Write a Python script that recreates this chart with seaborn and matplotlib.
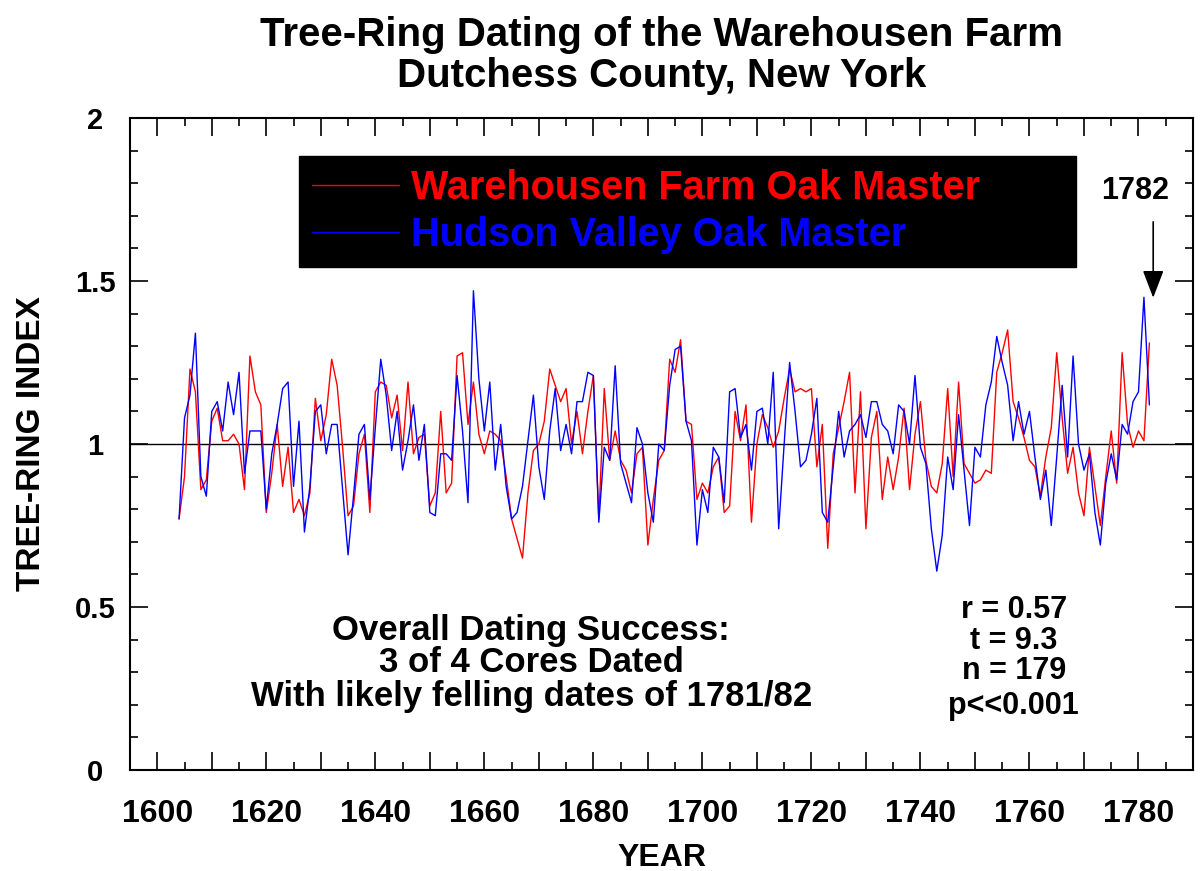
import numpy as np
import pandas as pd
import matplotlib
matplotlib.use("Agg")
import matplotlib.pyplot as plt
from matplotlib.ticker import MultipleLocator, FuncFormatter
import seaborn as sns

# --------------------  DATA  --------------------
years = list(range(1604, 1783))

warehousen = [
    # 1604-1619
    0.77, 0.90, 1.23, 1.16, 0.86, 0.89, 1.07, 1.11, 1.01, 1.01, 1.03, 1.00, 0.86, 1.27, 1.16, 1.12,
    # 1620-1639
    0.79, 0.91, 1.06, 0.87, 0.99, 0.79, 0.83, 0.78, 0.85, 1.14, 1.01, 1.09, 1.26, 1.18, 0.99, 0.78, 0.81, 0.97, 1.03, 0.79,
    # 1640-1659
    1.16, 1.19, 1.18, 1.08, 1.15, 0.98, 1.19, 0.97, 1.02, 1.03, 0.81, 0.85, 1.10, 0.85, 0.88, 1.27, 1.28, 1.06, 1.19, 1.03,
    # 1660-1679
    0.97, 1.04, 1.03, 1.01, 0.90, 0.77, 0.71, 0.65, 0.85, 0.98, 1.00, 1.07, 1.23, 1.18, 1.13, 1.17, 1.00, 1.10, 0.97, 1.10,
    # 1680-1699
    1.21, 0.77, 1.17, 0.95, 1.04, 0.95, 0.92, 0.85, 0.97, 0.99, 0.69, 0.83, 0.95, 0.98, 1.26, 1.22, 1.32, 1.07, 1.06, 0.83,
    # 1700-1719
    0.88, 0.85, 0.93, 0.96, 0.79, 0.81, 1.10, 1.01, 1.12, 0.76, 1.00, 1.09, 1.05, 0.99, 1.04, 1.14, 1.23, 1.16, 1.17, 1.16,
    # 1720-1739
    1.17, 0.93, 1.06, 0.68, 0.97, 1.05, 1.13, 1.22, 0.85, 1.16, 0.74, 1.02, 1.10, 0.83, 0.96, 0.86, 0.96, 1.11, 0.86, 1.03,
    # 1740-1759
    1.13, 0.95, 0.87, 0.85, 0.94, 1.17, 0.90, 1.19, 0.94, 0.91, 0.88, 0.89, 0.92, 0.91, 1.22, 1.28, 1.35, 1.13, 1.08, 1.02,
    # 1760-1779
    0.95, 0.93, 0.84, 0.96, 1.05, 1.28, 1.08, 0.91, 0.99, 0.85, 0.78, 0.99, 0.87, 0.75, 0.90, 1.04, 0.88, 1.28, 1.06, 0.99,
    # 1780-1782
    1.04, 1.01, 1.31,
]

hudson = [
    # 1604-1619
    0.77, 1.08, 1.15, 1.34, 0.90, 0.84, 1.10, 1.13, 1.04, 1.19, 1.09, 1.22, 0.91, 1.04, 1.04, 1.04,
    # 1620-1639
    0.80, 0.97, 1.06, 1.17, 1.19, 0.87, 1.07, 0.73, 0.87, 1.10, 1.12, 0.97, 1.06, 1.06, 0.86, 0.66, 0.84, 1.03, 1.06, 0.83,
    # 1640-1659
    1.05, 1.26, 1.15, 0.98, 1.10, 0.92, 1.01, 1.12, 0.95, 1.06, 0.79, 0.78, 0.97, 0.97, 0.95, 1.21, 1.04, 0.82, 1.47, 1.20,
    # 1660-1679
    1.04, 1.19, 0.92, 1.06, 0.87, 0.77, 0.79, 0.87, 1.01, 1.15, 0.93, 0.83, 1.04, 1.17, 0.98, 1.06, 0.97, 1.13, 1.13, 1.22,
    # 1680-1699
    1.21, 0.76, 0.99, 0.95, 1.24, 0.94, 0.88, 0.82, 1.05, 1.00, 0.85, 0.76, 1.00, 0.98, 1.18, 1.29, 1.30, 1.07, 1.01, 0.69,
    # 1700-1719
    0.86, 0.79, 0.99, 0.96, 0.82, 1.16, 1.17, 1.02, 1.06, 0.92, 1.10, 1.11, 1.00, 1.22, 0.74, 1.00, 1.25, 1.10, 0.93, 0.95,
    # 1720-1739
    1.03, 1.14, 0.79, 0.76, 0.93, 1.10, 0.96, 1.04, 1.06, 1.09, 1.02, 1.13, 1.13, 1.06, 1.04, 0.97, 1.12, 1.10, 1.00, 1.21,
    # 1740-1759
    0.99, 0.94, 0.74, 0.61, 0.72, 0.96, 0.86, 1.09, 0.92, 0.75, 0.99, 0.96, 1.12, 1.19, 1.33, 1.25, 1.18, 1.01, 1.13, 1.03,
    # 1760-1779
    1.10, 0.96, 0.83, 0.92, 0.75, 0.96, 1.18, 0.96, 1.27, 1.00, 0.92, 0.97, 0.79, 0.69, 0.88, 0.97, 0.89, 1.06, 1.03, 1.13,
    # 1780-1782
    1.16, 1.45, 1.12,
]

series_names = ["Warehousen Farm Oak Master", "Hudson Valley Oak Master"]
series_colors = ["#ff0000", "#0000ff"]

success_lines = ["Overall Dating Success:", "3 of 4 Cores Dated",
                 "With likely felling dates of 1781/82"]
stats_lines = ["r = 0.57", "t = 9.3", "n = 179", "p<<0.001"]

df = pd.DataFrame({
    "YEAR": years * 2,
    "INDEX": warehousen + hudson,
    "series": [series_names[0]] * len(years) + [series_names[1]] * len(years),
})

# --------------------  STYLE  --------------------
sns.set_style("ticks")
plt.rcParams["font.family"] = ["Liberation Sans", "DejaVu Sans"]
plt.rcParams["font.weight"] = "bold"
plt.rcParams["text.color"] = "black"
plt.rcParams["axes.labelcolor"] = "black"
plt.rcParams["xtick.color"] = "black"
plt.rcParams["ytick.color"] = "black"

fig = plt.figure(figsize=(12.04, 8.71), dpi=100)
ax = fig.add_axes([130 / 1204, 1 - 770 / 871, 1063 / 1204, 652 / 871])

sns.lineplot(data=df, x="YEAR", y="INDEX", hue="series", hue_order=series_names,
             palette=series_colors, linewidth=1.0, ax=ax)

ax.axhline(1.0, color="black", linewidth=1.0, zorder=1)

ax.set_xlim(1595, 1790)
ax.set_ylim(0, 2)

# ticks: inward, on all sides
ax.xaxis.set_major_locator(MultipleLocator(10))
ax.xaxis.set_minor_locator(MultipleLocator(5))
ax.xaxis.set_major_formatter(FuncFormatter(lambda v, p: f"{int(v)}" if int(v) % 20 == 0 else ""))
ax.yaxis.set_major_locator(MultipleLocator(0.5))
ax.yaxis.set_minor_locator(MultipleLocator(0.1))
ax.yaxis.set_major_formatter(FuncFormatter(lambda v, p: f"{v:g}"))
ax.tick_params(which="both", direction="in", top=True, right=True, width=1.2,
               color="black", labelcolor="black")
ax.tick_params(which="major", length=13)
ax.tick_params(which="minor", length=6)
ax.tick_params(axis="x", which="major", labelsize=23, pad=21)
ax.tick_params(axis="y", which="major", labelsize=21, pad=25)
for lbl in ax.get_yticklabels():
    lbl.set_horizontalalignment("center")
for lbl in ax.get_xticklabels() + ax.get_yticklabels():
    lbl.set_fontweight("bold")
for sp in ax.spines.values():
    sp.set_linewidth(1.5)
    sp.set_color("black")

ax.set_xlabel("YEAR", fontsize=23, fontweight="bold")
ax.set_ylabel("TREE-RING INDEX", fontsize=24, fontweight="bold")
ax.xaxis.set_label_coords(0.5, -0.112)
ax.yaxis.set_label_coords(-0.078, 0.5)

ax.set_title("Tree-Ring Dating of the Warehousen Farm\nDutchess County, New York",
             fontsize=29, fontweight="bold", linespacing=1.1, pad=22)

# legend: black box
handles, labels = ax.get_legend_handles_labels()
leg = ax.legend(handles, labels, loc="upper left",
                bbox_to_anchor=(0.159, 0.5, 0.731, 0.442), mode="expand",
                borderaxespad=0, frameon=True, facecolor="black", edgecolor="black",
                framealpha=1, fancybox=False, labelcolor="linecolor",
                prop={"weight": "bold", "size": 28.5}, handlelength=2.2,
                handletextpad=0.3, labelspacing=0.22, borderpad=0.33)

# text annotations
for txt, y in zip(success_lines, [0.429, 0.331, 0.224]):
    ax.text(1668.6, y, txt, ha="center", va="center", fontsize=25, fontweight="bold")
for txt, y in zip(stats_lines, [0.491, 0.396, 0.304, 0.196]):
    ax.text(1757.1, y, txt, ha="center", va="center", fontsize=22, fontweight="bold")

ax.text(1779.3, 1.775, "1782", ha="center", va="center", fontsize=22, fontweight="bold")
ax.annotate("", xy=(1782.7, 1.44), xytext=(1782.7, 1.69),
            arrowprops=dict(arrowstyle="-|>,head_length=1.7,head_width=0.65",
                            color="black", lw=1.2))

fig.savefig("out.png", dpi=100)
